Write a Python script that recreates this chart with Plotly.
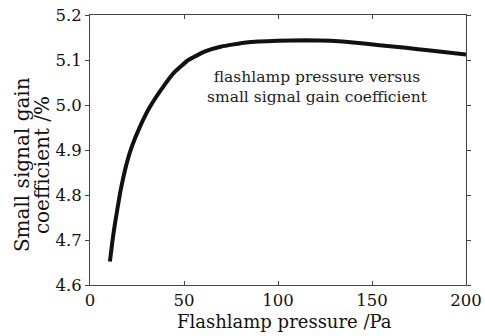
import plotly.graph_objects as go

pressure = [10.6, 12, 13.3, 16, 19.5, 22.2, 26.6, 31.9, 39, 45.2, 52.3, 61.2, 70, 83, 100, 115, 128, 140, 154, 168, 181, 200]
gain = [4.652, 4.70, 4.737, 4.804, 4.870, 4.907, 4.952, 4.996, 5.041, 5.074, 5.100, 5.119, 5.130, 5.139, 5.143, 5.144, 5.143, 5.139, 5.133, 5.127, 5.121, 5.112]

x_ticks = [0, 50, 100, 150, 200]
y_ticks = [4.6, 4.7, 4.8, 4.9, 5.0, 5.1, 5.2]
y_tick_text = ["4.6", "4.7", "4.8", "4.9", "5.0", "5.1", "5.2"]

FONT = "DejaVu Serif"
INK = "#111111"

fig = go.Figure()
fig.add_trace(go.Scatter(
    x=pressure, y=gain, mode="lines",
    line=dict(color=INK, width=4, shape="spline", smoothing=0.3),
    showlegend=False,
))

fig.add_annotation(
    x=121, y=5.039, xref="x", yref="y",
    text="flashlamp pressure versus<br>small signal gain coefficient",
    showarrow=False, align="center",
    font=dict(family=FONT, size=15.5, color="#222222"),
)

# axis titles
fig.add_annotation(
    x=0.516, y=0, xref="paper", yref="paper", yanchor="middle", yshift=-36,
    text="Flashlamp pressure /Pa", showarrow=False,
    font=dict(family=FONT, size=18, color=INK),
)
fig.add_annotation(
    x=0, y=0.444, xref="paper", yref="paper", xanchor="center", yanchor="middle",
    xshift=-68, textangle=-90,
    text="Small signal gain", showarrow=False,
    font=dict(family=FONT, size=20, color=INK),
)
fig.add_annotation(
    x=0, y=0.444, xref="paper", yref="paper", xanchor="center", yanchor="middle",
    xshift=-48, textangle=-90,
    text="coefficient /%", showarrow=False,
    font=dict(family=FONT, size=20, color=INK),
)

axis_common = dict(
    showline=True, linecolor="#444444", linewidth=1, mirror="all",
    showgrid=False, zeroline=False, automargin=False,
    tickfont=dict(family=FONT, size=16.5, color=INK),
    ticklen=4, tickcolor="#444444",
)

fig.update_xaxes(range=[0, 200], tickvals=x_ticks, ticks="inside", **axis_common)
fig.update_yaxes(range=[4.6, 5.2], tickvals=y_ticks, ticktext=y_tick_text, ticks="outside", **axis_common)

fig.update_layout(
    width=485, height=336,
    margin=dict(l=90, r=19, t=15, b=51),
    paper_bgcolor="white", plot_bgcolor="white",
)

# remove the default 8px page margin so the figure sits at the window's corner
fig.write_html("out.html", config={"displayModeBar": False},
               post_script="document.body.style.margin='0';")
